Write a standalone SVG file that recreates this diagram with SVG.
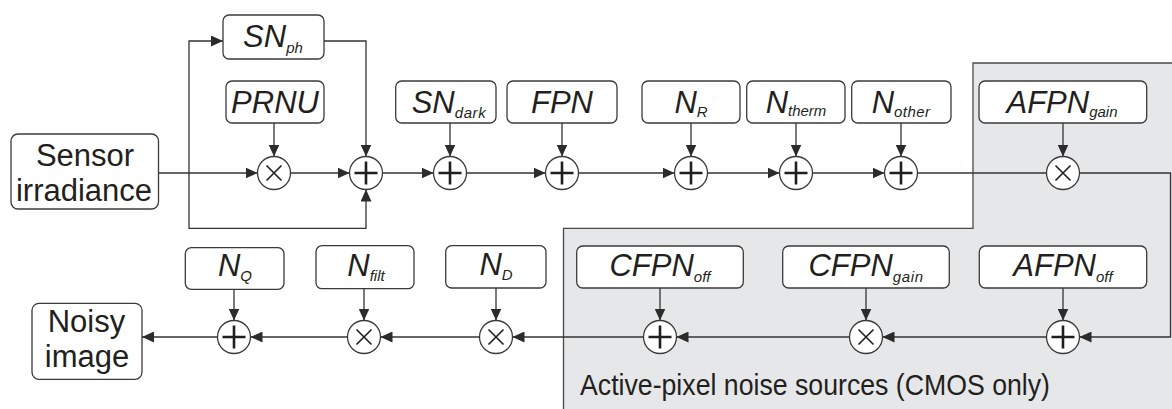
<svg xmlns="http://www.w3.org/2000/svg" width="1172" height="409" viewBox="0 0 1172 409">
  <defs>
    <marker id="arrow" markerUnits="userSpaceOnUse" markerWidth="12" markerHeight="11" refX="12" refY="5.5" orient="auto">
      <path d="M0,0 L12,5.5 L0,11 Z" fill="#2b2b2b"/>
    </marker>
    <style>
      .region { fill: #e6e7e9; stroke: none; }
      .region-edge { fill: none; stroke: #4a4a4a; stroke-width: 1.3; }
      .box { fill: #ffffff; stroke: #3a3a3a; stroke-width: 1.3; }
      .op { fill: #ffffff; stroke: #3a3a3a; stroke-width: 1.3; }
      .plus { stroke: #1e1e1e; stroke-width: 2.6; fill: none; }
      .times { stroke: #1e1e1e; stroke-width: 1.6; fill: none; }
      .wire { fill: none; stroke: #333333; stroke-width: 1.3; }
      .arr { marker-end: url(#arrow); }
      .lbl { font-family: "Liberation Sans", Arial, sans-serif; font-style: italic; font-size: 31px; fill: #231f20; text-anchor: middle; }
      .sub { font-size: 15px; }
      .io { font-family: "Liberation Sans", Arial, sans-serif; font-size: 31px; fill: #231f20; text-anchor: middle; }
      .caption { font-family: "Liberation Sans", Arial, sans-serif; font-size: 29px; fill: #231f20; }
    </style>
  </defs>

  <!-- CMOS active-pixel area -->
  <g id="cmos-region">
    <path class="region" d="M973,63 H1172 V409 H563.5 V228.3 H973 Z"/>
    <path class="region-edge" d="M1172,63 H973 V228.3 H563.5 V409"/>
    <text class="caption" x="580" y="395" textLength="470" lengthAdjust="spacingAndGlyphs">Active-pixel noise sources (CMOS only)</text>
  </g>

  <!-- connectors -->
  <g id="connectors">
    <!-- upper chain -->
    <path class="wire arr" d="M158.5,173 H257.5"/>
    <path class="wire arr" d="M290.5,173 H349.5"/>
    <path class="wire arr" d="M382.5,173 H433.5"/>
    <path class="wire arr" d="M466.5,173 H545.5"/>
    <path class="wire arr" d="M578.5,173 H674.5"/>
    <path class="wire arr" d="M707.5,173 H779.5"/>
    <path class="wire arr" d="M812.5,173 H884.5"/>
    <path class="wire" d="M917.5,173 H1046.5"/>
    <path class="wire arr" d="M1079.5,173 H1170.5 V337 H1079.5"/>
    <!-- lower chain -->
    <path class="wire arr" d="M1046.5,337 H882.5"/>
    <path class="wire arr" d="M849.5,337 H676.5"/>
    <path class="wire arr" d="M643.5,337 H512.5"/>
    <path class="wire arr" d="M479.5,337 H380.5"/>
    <path class="wire arr" d="M347.5,337 H250.5"/>
    <path class="wire arr" d="M217.5,337 H142"/>
    <!-- photon shot noise branch and bypass -->
    <path class="wire arr" d="M189,173 V41 H223"/>
    <path class="wire arr" d="M324,41 H366 V156.5"/>
    <path class="wire arr" d="M189,173 V228.3 H366 V189.5"/>
    <!-- noise source inputs, upper row -->
    <path class="wire arr" d="M274,123 V156.5"/>
    <path class="wire arr" d="M450,123 V156.5"/>
    <path class="wire arr" d="M562,123 V156.5"/>
    <path class="wire arr" d="M691,123 V156.5"/>
    <path class="wire arr" d="M796,123 V156.5"/>
    <path class="wire arr" d="M901,123 V156.5"/>
    <path class="wire arr" d="M1063,123 V156.5"/>
    <!-- noise source inputs, lower row -->
    <path class="wire arr" d="M234,289 V320.5"/>
    <path class="wire arr" d="M364,288 V320.5"/>
    <path class="wire arr" d="M496,288 V320.5"/>
    <path class="wire arr" d="M660,288 V320.5"/>
    <path class="wire arr" d="M866,288 V320.5"/>
    <path class="wire arr" d="M1063,288 V320.5"/>
  </g>

  <!-- input / output -->
  <g id="sensor-irradiance">
    <rect class="box" x="11" y="134" width="147.5" height="75" rx="7"/>
    <text class="io" x="85" y="165.5">Sensor</text>
    <text class="io" x="84" y="201">irradiance</text>
  </g>
  <g id="noisy-image">
    <rect class="box" x="32" y="303.3" width="110" height="76" rx="7"/>
    <text class="io" x="86.5" y="332">Noisy</text>
    <text class="io" x="87" y="367">image</text>
  </g>

  <!-- noise sources, upper row -->
  <g id="sn-ph">
    <rect class="box" x="223" y="15" width="101" height="44" rx="6"/>
    <text class="lbl" x="273" y="47">SN<tspan class="sub" dy="6">ph</tspan></text>
  </g>
  <g id="prnu">
    <rect class="box" x="226" y="81" width="98" height="42" rx="6"/>
    <text class="lbl" x="275" y="113">PRNU</text>
  </g>
  <g id="sn-dark">
    <rect class="box" x="395.7" y="81" width="100.3" height="42" rx="6"/>
    <text class="lbl" x="449" y="113">SN<tspan class="sub" dy="5" letter-spacing="0.6">dark</tspan></text>
  </g>
  <g id="fpn">
    <rect class="box" x="507" y="81" width="110" height="42" rx="6"/>
    <text class="lbl" x="562" y="113">FPN</text>
  </g>
  <g id="n-r">
    <rect class="box" x="642" y="81" width="98" height="42" rx="6"/>
    <text class="lbl" x="691" y="113">N<tspan class="sub" dy="4">R</tspan></text>
  </g>
  <g id="n-therm">
    <rect class="box" x="746.7" y="81" width="98.3" height="42" rx="6"/>
    <text class="lbl" x="796" y="113">N<tspan class="sub" dy="3">therm</tspan></text>
  </g>
  <g id="n-other">
    <rect class="box" x="851.7" y="81" width="99.3" height="42" rx="6"/>
    <text class="lbl" x="901" y="113">N<tspan class="sub" dy="4" letter-spacing="0.4">other</tspan></text>
  </g>
  <g id="afpn-gain">
    <rect class="box" x="979" y="81" width="167.7" height="42" rx="6"/>
    <text class="lbl" x="1062" y="113">AFPN<tspan class="sub" dy="4">gain</tspan></text>
  </g>

  <!-- noise sources, lower row -->
  <g id="n-q">
    <rect class="box" x="185.3" y="247.7" width="98.7" height="41.6" rx="6"/>
    <text class="lbl" x="235" y="276">N<tspan class="sub" dy="5">Q</tspan></text>
  </g>
  <g id="n-filt">
    <rect class="box" x="316" y="245.7" width="98" height="43" rx="6"/>
    <text class="lbl" x="366" y="276">N<tspan class="sub" dy="5">filt</tspan></text>
  </g>
  <g id="n-d">
    <rect class="box" x="445.7" y="245.7" width="100.3" height="42.3" rx="6"/>
    <text class="lbl" x="496" y="275">N<tspan class="sub" dy="5">D</tspan></text>
  </g>
  <g id="cfpn-off">
    <rect class="box" x="576.7" y="246" width="166.6" height="42" rx="6"/>
    <text class="lbl" x="660" y="276">CFPN<tspan class="sub" dy="6">off</tspan></text>
  </g>
  <g id="cfpn-gain">
    <rect class="box" x="782.7" y="246" width="166.6" height="42" rx="6"/>
    <text class="lbl" x="866" y="276">CFPN<tspan class="sub" dy="6" letter-spacing="0.6">gain</tspan></text>
  </g>
  <g id="afpn-off">
    <rect class="box" x="979.3" y="246" width="167.4" height="42" rx="6"/>
    <text class="lbl" x="1063" y="276">AFPN<tspan class="sub" dy="6">off</tspan></text>
  </g>

  <!-- operators, upper row -->
  <g id="op-mul-prnu">
    <circle class="op" cx="274" cy="173" r="16.5"/>
    <path class="times" d="M266.5,165.5 L281.5,180.5 M281.5,165.5 L266.5,180.5"/>
  </g>
  <g id="op-add-ph">
    <circle class="op" cx="366" cy="173" r="16.5"/>
    <path class="plus" d="M354.5,173 H377.5 M366,161.5 V184.5"/>
  </g>
  <g id="op-add-dark">
    <circle class="op" cx="450" cy="173" r="16.5"/>
    <path class="plus" d="M438.5,173 H461.5 M450,161.5 V184.5"/>
  </g>
  <g id="op-add-fpn">
    <circle class="op" cx="562" cy="173" r="16.5"/>
    <path class="plus" d="M550.5,173 H573.5 M562,161.5 V184.5"/>
  </g>
  <g id="op-add-r">
    <circle class="op" cx="691" cy="173" r="16.5"/>
    <path class="plus" d="M679.5,173 H702.5 M691,161.5 V184.5"/>
  </g>
  <g id="op-add-therm">
    <circle class="op" cx="796" cy="173" r="16.5"/>
    <path class="plus" d="M784.5,173 H807.5 M796,161.5 V184.5"/>
  </g>
  <g id="op-add-other">
    <circle class="op" cx="901" cy="173" r="16.5"/>
    <path class="plus" d="M889.5,173 H912.5 M901,161.5 V184.5" stroke-width="3.2"/>
  </g>
  <g id="op-mul-afpn">
    <circle class="op" cx="1063" cy="173" r="16.5"/>
    <path class="times" d="M1055.5,165.5 L1070.5,180.5 M1070.5,165.5 L1055.5,180.5"/>
  </g>

  <!-- operators, lower row -->
  <g id="op-add-afpn-off">
    <circle class="op" cx="1063" cy="337" r="16.5"/>
    <path class="plus" d="M1051.5,337 H1074.5 M1063,325.5 V348.5" stroke-width="3.2"/>
  </g>
  <g id="op-mul-cfpn">
    <circle class="op" cx="866" cy="337" r="16.5"/>
    <path class="times" d="M858.5,329.5 L873.5,344.5 M873.5,329.5 L858.5,344.5"/>
  </g>
  <g id="op-add-cfpn-off">
    <circle class="op" cx="660" cy="337" r="16.5"/>
    <path class="plus" d="M648.5,337 H671.5 M660,325.5 V348.5"/>
  </g>
  <g id="op-mul-d">
    <circle class="op" cx="496" cy="337" r="16.5"/>
    <path class="times" d="M488.5,329.5 L503.5,344.5 M503.5,329.5 L488.5,344.5"/>
  </g>
  <g id="op-mul-filt">
    <circle class="op" cx="364" cy="337" r="16.5"/>
    <path class="times" d="M356.5,329.5 L371.5,344.5 M371.5,329.5 L356.5,344.5"/>
  </g>
  <g id="op-add-q">
    <circle class="op" cx="234" cy="337" r="16.5"/>
    <path class="plus" d="M222.5,337 H245.5 M234,325.5 V348.5"/>
  </g>
</svg>
